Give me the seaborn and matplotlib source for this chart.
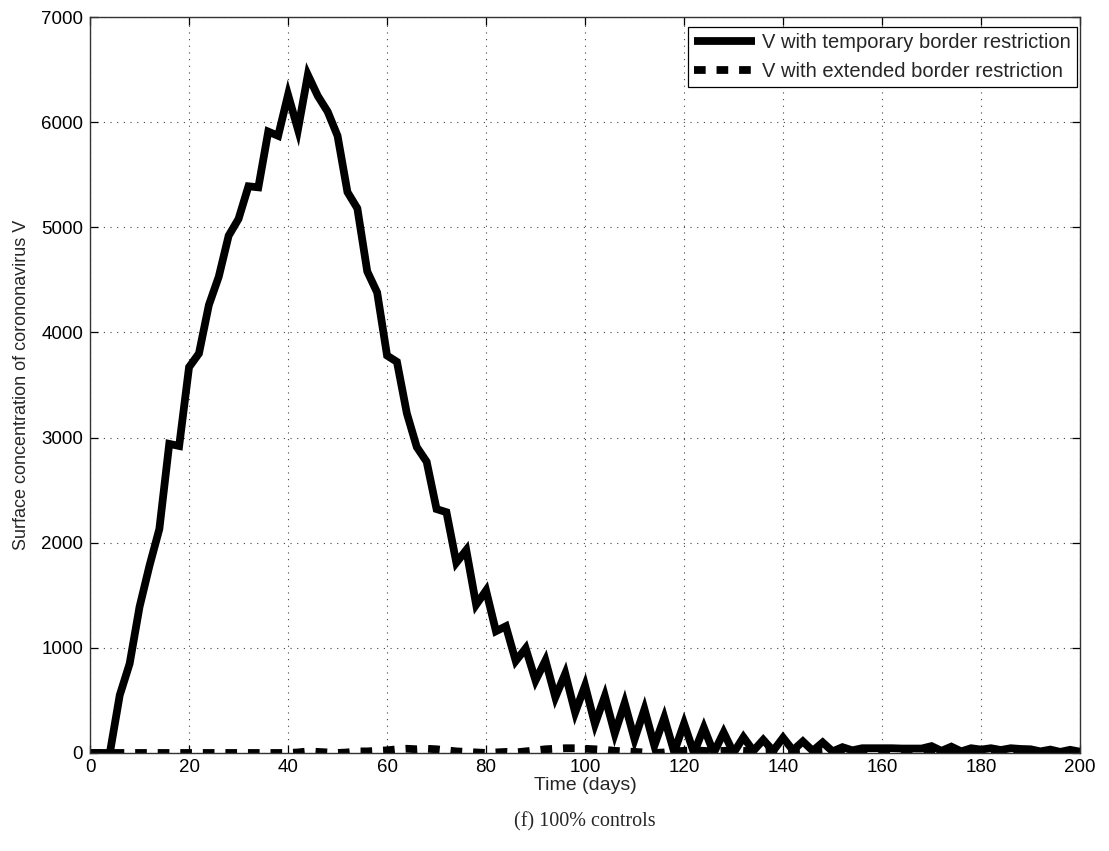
import numpy as np
import pandas as pd
import matplotlib
matplotlib.use("Agg")
import matplotlib.pyplot as plt
import seaborn as sns

# Simulation output, sampled every 2 days
days = list(range(0, 201, 2))

v_temporary = [
    0, 0, 0, 550, 850, 1390, 1780, 2130, 2940, 2920,
    3670, 3800, 4260, 4530, 4920, 5080, 5390, 5380, 5910, 5870,
    6260, 5930, 6450, 6250, 6100, 5870, 5335, 5180, 4580, 4380,
    3780, 3720, 3230, 2910, 2770, 2320, 2290, 1810, 1930, 1410,
    1545, 1158, 1205, 875, 995, 690, 880, 530, 755, 385,
    640, 275, 540, 185, 475, 130, 415, 70, 335, 10,
    280, 0, 240, 0, 195, 0, 150, 20, 125, 20,
    145, 25, 110, 20, 100, 15, 55, 25, 45, 45,
    45, 45, 42, 42, 42, 65, 20, 60, 15, 45,
    32, 45, 28, 45, 38, 35, 15, 32, 10, 30,
    12,
]

v_extended = [
    0, 0, 0, 0, 0, 0, 0, 0, 0, 0,
    0, 0, 0, 0, 0, 0, 0, 0, 0, 0,
    0, 5, 15, 10, 5, 0, 5, 15, 15, 20,
    25, 35, 40, 35, 40, 35, 25, 15, 10, 5,
    0, 5, 10, 5, 15, 25, 35, 40, 45, 45,
    40, 35, 30, 20, 15, 10, 5, 0, 5, 15,
    20, 25, 20, 15, 20, 25, 20, 15, 20, 25,
    20, 15, 20, 15, 20, 15, 20, 15, 15, 10,
    10, 10, 10, 10, 10, 15, 10, 20, 10, 15,
    10, 15, 10, 15, 10, 15, 10, 15, 5, 10,
    5,
]

label_temporary = "V with temporary border restriction"
label_extended = "V with extended border restriction"

x_ticks = list(range(0, 201, 20))
y_ticks = list(range(0, 7001, 1000))

df = pd.DataFrame({
    "day": days * 2,
    "V": v_temporary + v_extended,
    "scenario": [label_temporary] * len(days) + [label_extended] * len(days),
})

sns.set_style("ticks")
plt.rcParams["font.family"] = ["Liberation Sans", "DejaVu Sans"]

fig = plt.figure(figsize=(11.09, 8.51), dpi=100)
ax = fig.add_axes([0.0812, 0.1152, 0.8927, 0.8648])

lw = 5.6
sns.lineplot(
    data=df, x="day", y="V", hue="scenario", style="scenario",
    hue_order=[label_temporary, label_extended],
    style_order=[label_temporary, label_extended],
    palette=["black", "black"],
    dashes=[(None, None), (1.5, 1.4)],
    linewidth=lw, ax=ax, legend=True,
)
for line in ax.lines:
    line.set_dash_capstyle("butt")
    line.set_solid_capstyle("butt")
    line.set_solid_joinstyle("miter")

ax.set_xlim(0, 200)
ax.set_ylim(0, 7000)
ax.set_xticks(x_ticks)
ax.set_yticks(y_ticks)
ax.grid(True, color="#444444", linestyle=(0, (1, 5)), linewidth=0.8)

for side in ["top", "right", "bottom", "left"]:
    ax.spines[side].set_visible(True)
    ax.spines[side].set_color("#333333")
    ax.spines[side].set_linewidth(1.0)

ax.tick_params(direction="in", length=6, width=0.9, top=True, right=True,
               labelsize=13.5, colors="black", pad=5)
ax.tick_params(axis="x", pad=4)

ax.set_xlabel("Time (days)", fontsize=14, labelpad=1)
ax.set_ylabel("Surface concentration of corononavirus V", fontsize=13, labelpad=8)

handles, labels = ax.get_legend_handles_labels()
leg = ax.legend(handles, labels, loc="upper right", fontsize=14.5,
                frameon=True, fancybox=False, framealpha=1, edgecolor="black",
                handlelength=3.0, borderaxespad=0.1, borderpad=0.3,
                labelspacing=0.5, handletextpad=0.35,
                bbox_to_anchor=(0.9985, 0.989))
leg.get_frame().set_linewidth(0.9)
for lh in leg.get_lines():
    lh.set_linewidth(lw)
    lh.set_dash_capstyle("butt")

fig.text(0.527, 0.034, "(f) 100% controls", ha="center", va="center",
         fontsize=14.5, family=["Liberation Serif", "DejaVu Serif"])

fig.savefig("out.png", dpi=100, facecolor="white")
